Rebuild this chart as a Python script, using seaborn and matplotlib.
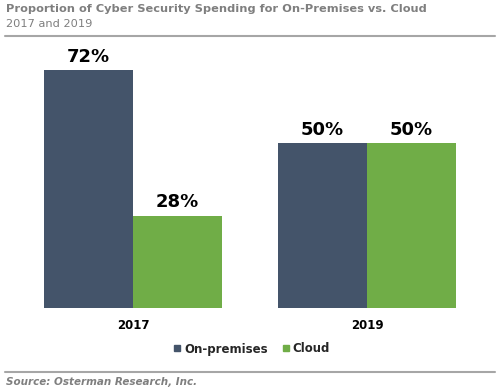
import pandas as pd
import seaborn as sns
import matplotlib.pyplot as plt
from matplotlib.lines import Line2D

# data
years = ["2017", "2019"]
on_prem = [72, 50]
cloud = [28, 50]
series = ["On-premises", "Cloud"]
colors = ["#44546A", "#70AD47"]

df = pd.DataFrame({
    "year": years * 2,
    "share": on_prem + cloud,
    "kind": [series[0]] * 2 + [series[1]] * 2,
})

sns.set_style("white")
plt.rcParams['font.family'] = ['DejaVu Sans']

fig = plt.figure(figsize=(5, 3.9), dpi=100)
ax = fig.add_axes([0.032, 0.2103, 0.936, 0.677])

sns.barplot(data=df, x="year", y="share", hue="kind", palette=colors,
            width=0.76, saturation=1, linewidth=0, ax=ax, legend=False)

for cont in ax.containers:
    ax.bar_label(cont, labels=[f"{v:.0f}%" for v in cont.datavalues],
                 fontsize=13, fontweight="bold", padding=3, color="black")

ax.set_xlim(-0.5, 1.5)
ax.set_ylim(0, 80)
ax.set_yticks([])
ax.set_xlabel("")
ax.set_ylabel("")
ax.tick_params(axis="x", length=0, pad=8)
for lab in ax.get_xticklabels():
    lab.set_fontweight("bold")
    lab.set_fontsize(8.5)
    lab.set_color("black")
sns.despine(ax=ax, left=True, bottom=True)

# legend
handles = [Line2D([], [], marker="s", linestyle="", color=c, markersize=4.5) for c in colors]
fig.legend(handles, series, loc="center", bbox_to_anchor=(0.5, 1 - 349 / 390),
           ncol=2, frameon=False, handlelength=1.2, handletextpad=0.0, columnspacing=0.9,
           prop={"weight": "bold", "size": 8.5})

# header and footer
fig.text(0.012, 1 - 9 / 390, "Proportion of Cyber Security Spending for On-Premises vs. Cloud",
         color="#7f7f7f", fontsize=8.2, fontweight="bold", va="center")
fig.text(0.012, 1 - 24 / 390, "2017 and 2019", color="#7f7f7f", fontsize=8.2, va="center")
fig.add_artist(Line2D([0.01, 0.99], [1 - 36 / 390] * 2, color="#a6a6a6", lw=1.5))
fig.add_artist(Line2D([0.01, 0.99], [1 - 372 / 390] * 2, color="#a6a6a6", lw=1.5))
fig.text(0.012, 1 - 382 / 390, "Source: Osterman Research, Inc.", color="#7f7f7f",
         fontsize=7.5, fontweight="bold", fontstyle="italic", va="center")

fig.savefig("out.png", dpi=100)
